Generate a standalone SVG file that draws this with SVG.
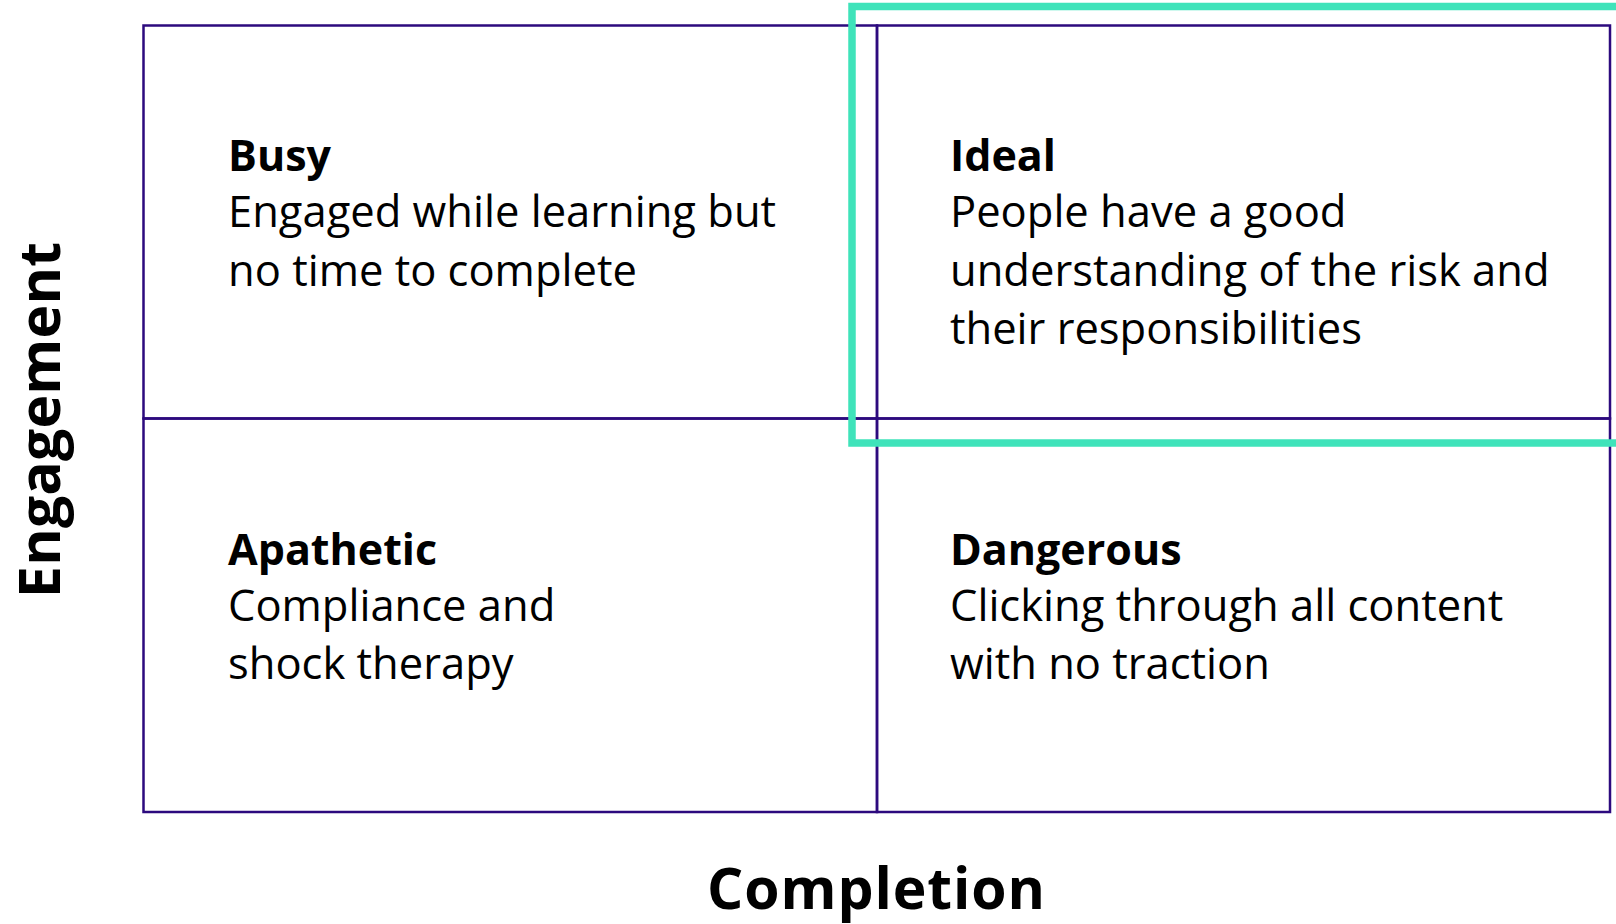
<svg xmlns="http://www.w3.org/2000/svg" width="1616" height="924" viewBox="0 0 1616 924">
<style>
.cell{fill:none;stroke:#2C0A7E;stroke-width:2.5}
.title{font-family:"Open Sans","Liberation Sans",Arial,sans-serif;font-weight:bold;font-size:43px;fill:#000}
.body{font-family:"Open Sans","Liberation Sans",Arial,sans-serif;font-size:43.5px;fill:#000}
.axis{font-family:"Open Sans","Liberation Sans",Arial,sans-serif;font-weight:bold;fill:#000}
.hl{fill:none;stroke:#3FE3BA;stroke-width:7.5}
</style>
<rect width="1616" height="924" fill="#fff"/>
<g id="busy">
<rect class="cell" x="143.5" y="25.5" width="733.5" height="393"/>
<text class="title" x="228" y="171">Busy</text>
<text class="body" x="228" y="227">Engaged while learning but</text>
<text class="body" x="228" y="286">no time to complete</text>
</g>
<g id="ideal">
<rect class="cell" x="877" y="25.5" width="733" height="393"/>
<text class="title" x="950" y="171">Ideal</text>
<text class="body" x="950" y="227">People have a good</text>
<text class="body" x="950" y="286">understanding of the risk and</text>
<text class="body" x="950" y="344">their responsibilities</text>
</g>
<g id="apathetic">
<rect class="cell" x="143.5" y="418.5" width="733.5" height="393.5"/>
<text class="title" x="228" y="565">Apathetic</text>
<text class="body" x="228" y="621">Compliance and</text>
<text class="body" x="228" y="679">shock therapy</text>
</g>
<g id="dangerous">
<rect class="cell" x="877" y="418.5" width="733" height="393.5"/>
<text class="title" x="950" y="565">Dangerous</text>
<text class="body" x="950" y="621">Clicking through all content</text>
<text class="body" x="950" y="679">with no traction</text>
</g>
<g id="highlight">
<rect class="hl" x="852" y="6.5" width="790" height="436.5"/>
</g>
<g id="axes">
<text class="axis" font-size="57" text-anchor="middle" textLength="356" transform="translate(60,420) rotate(-90)">Engagement</text>
<text class="axis" font-size="57" x="876" y="909" text-anchor="middle" textLength="338">Completion</text>
</g>
<g id="connectors"></g>
</svg>
